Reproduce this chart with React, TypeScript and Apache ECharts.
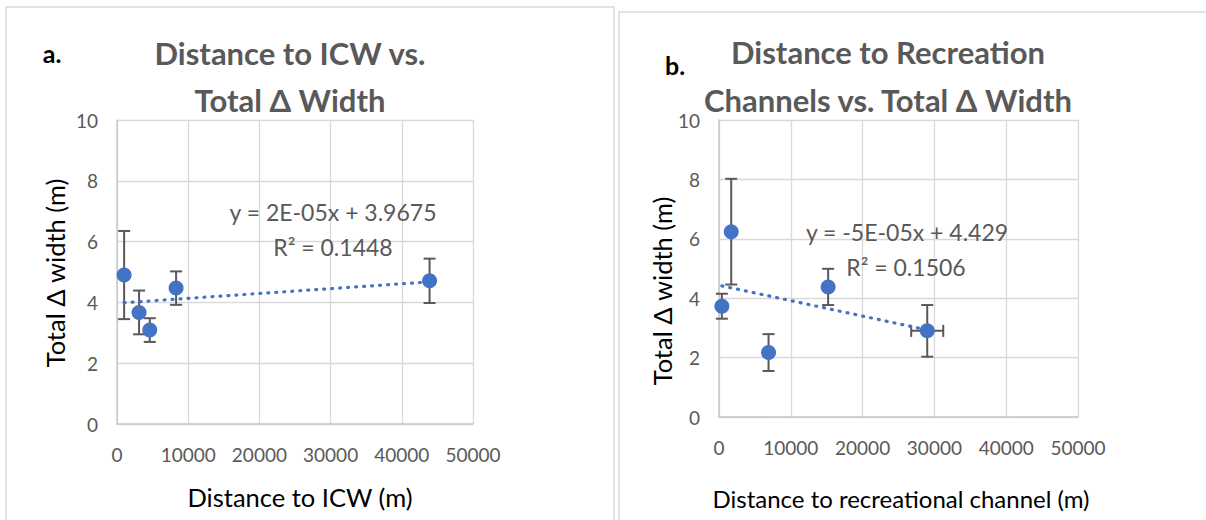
import React, { useEffect, useRef } from "react";
import * as echarts from "echarts";

// Panel a: distance to ICW
const icwDistance = [1000, 3100, 4600, 8300, 43900];
const icwWidth = [4.9, 3.67, 3.09, 4.47, 4.71];
const icwWidthErr = [1.45, 0.72, 0.39, 0.55, 0.73];
const icwDistanceErr = [0, 0, 0, 0, 0];

// Panel b: distance to recreational channel
const recDistance = [400, 1700, 6900, 15200, 29000];
const recWidth = [3.73, 6.24, 2.17, 4.38, 2.9];
const recWidthErr = [0.42, 1.78, 0.62, 0.61, 0.87];
const recDistanceErr = [0, 0, 0, 0, 2230];

const titleA = ["Distance to ICW vs.", "Total Δ Width"];
const titleB = ["Distance to Recreation", "Channels vs. Total Δ Width"];
const eqA = ["y = 2E-05x + 3.9675", "R² = 0.1448"];
const eqB = ["y = -5E-05x + 4.429", "R² = 0.1506"];
const xNameA = "Distance to ICW (m)";
const xNameB = "Distance to recreational channel (m)";
const yName = "Total Δ width (m)";

const FONT = "Lato, 'Open Sans', sans-serif";
const BLUE = "#4472C4";
const GRAY = "#595959";
const GRID = "#D9D9D9";

function fit(xs: number[], ys: number[]) {
  const n = xs.length;
  const mx = xs.reduce((a, b) => a + b, 0) / n;
  const my = ys.reduce((a, b) => a + b, 0) / n;
  let sxy = 0;
  let sxx = 0;
  for (let i = 0; i < n; i++) {
    sxy += (xs[i] - mx) * (ys[i] - my);
    sxx += (xs[i] - mx) * (xs[i] - mx);
  }
  const b = sxy / sxx;
  const a = my - b * mx;
  const x0 = Math.min(...xs);
  const x1 = Math.max(...xs);
  return [
    [x0, a + b * x0],
    [x1, a + b * x1],
  ];
}

function errData(xs: number[], ys: number[], ey: number[], ex: number[]) {
  return xs.map((x, i) => [x, ys[i], ey[i], ex[i]]);
}

const renderErr = (params: any, api: any) => {
  const x = api.value(0);
  const y = api.value(1);
  const ey = api.value(2);
  const ex = api.value(3);
  const c = api.coord([x, y]);
  const style = { stroke: GRAY, lineWidth: 2 };
  const cap = 6;
  const children: any[] = [];
  if (ey > 0) {
    const t = api.coord([x, y + ey]);
    const b = api.coord([x, y - ey]);
    children.push({ type: "line", shape: { x1: c[0], y1: t[1], x2: c[0], y2: b[1] }, style });
    children.push({ type: "line", shape: { x1: c[0] - cap, y1: t[1], x2: c[0] + cap, y2: t[1] }, style });
    children.push({ type: "line", shape: { x1: c[0] - cap, y1: b[1], x2: c[0] + cap, y2: b[1] }, style });
  }
  if (ex > 0) {
    const l = api.coord([x - ex, y]);
    const r = api.coord([x + ex, y]);
    children.push({ type: "line", shape: { x1: l[0], y1: c[1], x2: r[0], y2: c[1] }, style });
    children.push({ type: "line", shape: { x1: l[0], y1: c[1] - cap, x2: l[0], y2: c[1] + cap }, style });
    children.push({ type: "line", shape: { x1: r[0], y1: c[1] - cap, x2: r[0], y2: c[1] + cap }, style });
  }
  return { type: "group", children };
};

function axisX(gridIndex: number) {
  return {
    type: "value",
    gridIndex,
    min: 0,
    max: 50000,
    interval: 10000,
    axisLine: { show: true, lineStyle: { color: "#C8C8C8", width: 1.5 } },
    axisTick: { show: false },
    splitLine: { show: true, lineStyle: { color: GRID, width: 1.3 } },
    axisLabel: { color: GRAY, fontSize: 19, fontFamily: FONT, margin: 21, formatter: (v: number) => String(v) },
  };
}

function axisY(gridIndex: number) {
  return {
    type: "value",
    gridIndex,
    min: 0,
    max: 10,
    interval: 2,
    axisLine: { show: true, lineStyle: { color: "#C8C8C8", width: 1.5 } },
    axisTick: { show: false },
    splitLine: { show: true, lineStyle: { color: GRID, width: 1.3 } },
    axisLabel: { color: GRAY, fontSize: 19, fontFamily: FONT, margin: 19 },
  };
}

function txt(text: string, x: number, y: number, size: number, color: string, weight: string = "normal", rotation = 0) {
  return {
    type: "text",
    x,
    y,
    rotation,
    z: 10,
    style: {
      text,
      fill: color,
      fontSize: size,
      fontFamily: FONT,
      fontWeight: weight,
      align: "center",
      verticalAlign: "middle",
    },
  };
}

export default function App() {
  const ref = useRef<HTMLDivElement>(null);
  useEffect(() => {
    document.body.style.margin = "0";
    const chart = echarts.init(ref.current!, undefined, { renderer: "svg" });
    const series: any[] = [];
    const panels = [
      { xs: icwDistance, ys: icwWidth, ey: icwWidthErr, ex: icwDistanceErr },
      { xs: recDistance, ys: recWidth, ey: recWidthErr, ex: recDistanceErr },
    ];
    panels.forEach((p, i) => {
      series.push({
        type: "custom",
        xAxisIndex: i,
        yAxisIndex: i,
        renderItem: renderErr,
        data: errData(p.xs, p.ys, p.ey, p.ex),
        encode: { x: 0, y: 1 },
        z: 2,
      });
      series.push({
        type: "scatter",
        xAxisIndex: i,
        yAxisIndex: i,
        data: p.xs.map((x, k) => [x, p.ys[k]]),
        symbol: "circle",
        symbolSize: 15,
        itemStyle: { color: BLUE, opacity: 1 },
        z: 3,
      });
      series.push({
        type: "line",
        xAxisIndex: i,
        yAxisIndex: i,
        data: fit(p.xs, p.ys),
        symbol: "none",
        lineStyle: { color: BLUE, width: 3.2, type: [1, 7], cap: "round" },
        z: 4,
      });
    });

    chart.setOption({
      animation: false,
      backgroundColor: "#ffffff",
      grid: [
        { left: 117, top: 120, width: 356, height: 304 },
        { left: 719, top: 120, width: 359, height: 297 },
      ],
      xAxis: [axisX(0), axisX(1)],
      yAxis: [axisY(0), axisY(1)],
      series,
      graphic: [
        { type: "rect", shape: { x: 6, y: 7, width: 608, height: 600 }, style: { fill: "none", stroke: GRID, lineWidth: 1.5 }, z: 0 },
        { type: "rect", shape: { x: 619, y: 12, width: 700, height: 600 }, style: { fill: "none", stroke: GRID, lineWidth: 1.5 }, z: 0 },
        txt("a.", 52, 53, 25, "#000000", "bold"),
        txt("b.", 675, 65, 25, "#000000", "bold"),
        txt(titleA[0], 290, 53, 31, GRAY, "bold"),
        txt(titleA[1], 290, 100, 31, GRAY, "bold"),
        txt(titleB[0], 888, 52, 31, GRAY, "bold"),
        txt(titleB[1], 888, 100, 31, GRAY, "bold"),
        txt(eqA[0], 333, 212, 23, GRAY),
        txt(eqA[1], 333, 247, 23, GRAY),
        txt(eqB[0], 907, 232, 23, GRAY),
        txt(eqB[1], 906, 267, 23, GRAY),
        txt(xNameA, 300, 497, 25.5, "#000000"),
        txt(xNameB, 901, 498, 24, "#000000"),
        txt(yName, 55, 273, 25.5, "#000000", "normal", Math.PI / 2),
        txt(yName, 662, 291, 25.5, "#000000", "normal", Math.PI / 2),
      ],
    });
    return () => chart.dispose();
  }, []);
  return <div ref={ref} style={{ position: "absolute", left: 0, top: 0, width: 1206, height: 520 }} />;
}
